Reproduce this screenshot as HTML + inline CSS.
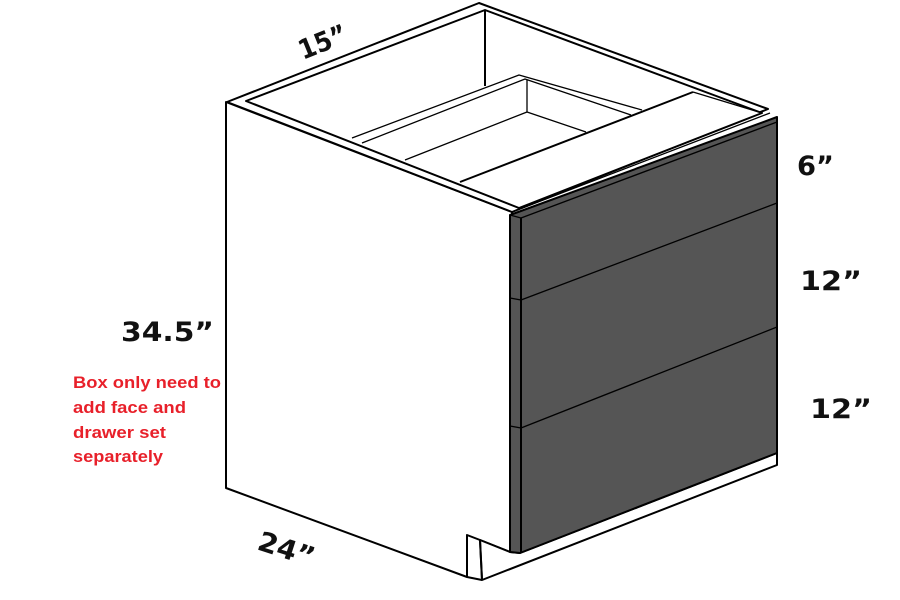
<!DOCTYPE html>
<html><head><meta charset="utf-8"><style>html,body{margin:0;padding:0;background:#fff}svg{display:block}</style></head>
<body>
<svg width="900" height="600" viewBox="0 0 900 600" xmlns="http://www.w3.org/2000/svg">
<g fill="none" stroke="#000" stroke-width="2" stroke-linejoin="round">
<polygon points="226,102 512,212 510,552 480,540 467,535 467,577 226,488" fill="#fff"/>
<polygon points="227,102 479,3 768,109 512,212" fill="#fff"/>
<polygon points="246,101 485,10 762,113 519,208" fill="#fff"/>
<line x1="485" y1="10" x2="485" y2="86"/>
<polyline points="352,138 519,75 642,110" stroke-width="1.3"/>
<polyline points="362,143 525,79 631,115" stroke-width="1.3"/>
<line x1="527" y1="80" x2="527" y2="112" stroke-width="1.3"/>
<polyline points="405,160 527,112 586,132" stroke-width="1.3"/>
<line x1="460" y1="182" x2="693" y2="92"/>
<line x1="693" y1="92" x2="762" y2="113" stroke-width="1.3"/>
<polygon points="482,580 777,465 777,453 520,553 510,552 480,540" fill="#fff"/>
<line x1="467" y1="535" x2="467" y2="577"/>
<line x1="480" y1="540" x2="482" y2="580"/>
<line x1="467" y1="577" x2="482" y2="580"/>
<polygon points="510,215 777,117 777,453 520,553 510,552" fill="#555"/>
<line x1="521" y1="218" x2="521" y2="553"/>
<line x1="510" y1="215" x2="521" y2="218" stroke-width="1.3"/>
<line x1="521" y1="218" x2="777" y2="122" stroke-width="1.3"/>
<line x1="512" y1="212" x2="770" y2="113" stroke-width="1.3"/>
<line x1="510" y1="298" x2="521" y2="300" stroke-width="1.3"/>
<line x1="521" y1="300" x2="777" y2="203" stroke-width="1.3"/>
<line x1="510" y1="426" x2="521" y2="428" stroke-width="1.3"/>
<line x1="521" y1="428" x2="777" y2="327" stroke-width="1.3"/>
</g>
<g font-family="'DejaVu Sans','Liberation Sans',sans-serif" font-weight="bold" font-size="27" fill="#111" lengthAdjust="spacingAndGlyphs">
<text x="303" y="60" transform="rotate(-22 303 60)" textLength="50" lengthAdjust="spacingAndGlyphs">15”</text>
<text x="797" y="175" textLength="37" lengthAdjust="spacingAndGlyphs">6”</text>
<text x="800" y="290" textLength="62" lengthAdjust="spacingAndGlyphs">12”</text>
<text x="810" y="418" textLength="62" lengthAdjust="spacingAndGlyphs">12”</text>
<text x="121" y="341" textLength="93" lengthAdjust="spacingAndGlyphs">34.5”</text>
<text x="256" y="549" transform="rotate(18 256 549)" textLength="58" lengthAdjust="spacingAndGlyphs">24”</text>
</g>
<g font-family="'Liberation Sans',sans-serif" font-weight="bold" font-size="17" fill="#e8202a">
<text x="73" y="388" textLength="148" lengthAdjust="spacingAndGlyphs">Box only need to</text>
<text x="73" y="413" textLength="113" lengthAdjust="spacingAndGlyphs">add face and</text>
<text x="73" y="438" textLength="93" lengthAdjust="spacingAndGlyphs">drawer set</text>
<text x="73" y="462" textLength="90" lengthAdjust="spacingAndGlyphs">separately</text>
</g>
</svg>
</body></html>
